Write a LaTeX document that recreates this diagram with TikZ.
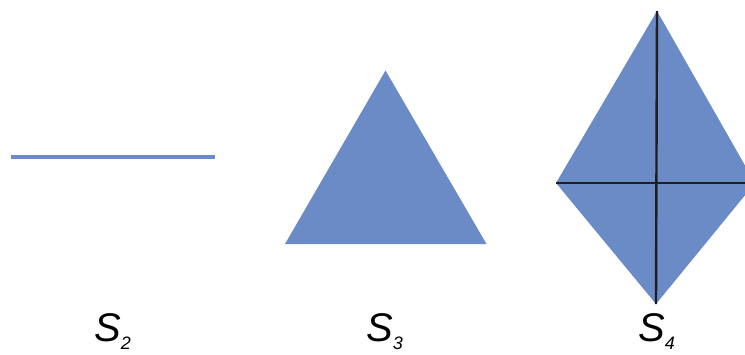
\documentclass[tikz,border=0pt]{standalone}
\usepackage{fontspec}
\setmainfont{Liberation Sans}
\definecolor{shapeblue}{RGB}{106,139,198}
\definecolor{edgeblack}{RGB}{30,30,32}
\newcommand{\subnum}[1]{\raisebox{-8pt}{\fontsize{18}{18}\selectfont #1}}
\begin{document}
\begin{tikzpicture}[x=1pt,y=-1pt,
  bluefill/.style={fill=shapeblue,draw=none},
  axisline/.style={draw=edgeblack,line width=2.4pt},
  seg/.style={draw=shapeblue,line width=4pt},
  lab/.style={inner sep=0pt,anchor=base west,font=\fontsize{40}{40}\selectfont\itshape}]
\path[use as bounding box] (0,0) rectangle (745,354);
\clip (0,0) rectangle (745,354);
% S2 segment
\coordinate (a1) at (11,157);
\coordinate (a2) at (215,157);
\draw[seg] (a1) -- (a2);
% S3 triangle
\coordinate (t1) at (385.5,70.5);
\coordinate (t2) at (285,244);
\coordinate (t3) at (486.5,244);
\fill[bluefill] (t1) -- (t2) -- (t3) -- cycle;
% S4 diamond
\coordinate (dT) at (657,11);
\coordinate (dL) at (556,183);
\coordinate (dB) at (656,304);
\coordinate (dR) at (755,183);
\fill[bluefill] (dT) -- (dL) -- (dB) -- (dR) -- cycle;
\draw[axisline] (dT) -- (dB);
\draw[axisline] (dL) -- (dR);
% labels
\node[lab] (l2) at (94,341) {S\subnum{2}};
\node[lab] (l3) at (366,341) {S\subnum{3}};
\node[lab] (l4) at (638,341) {S\subnum{4}};
\end{tikzpicture}
\end{document}
